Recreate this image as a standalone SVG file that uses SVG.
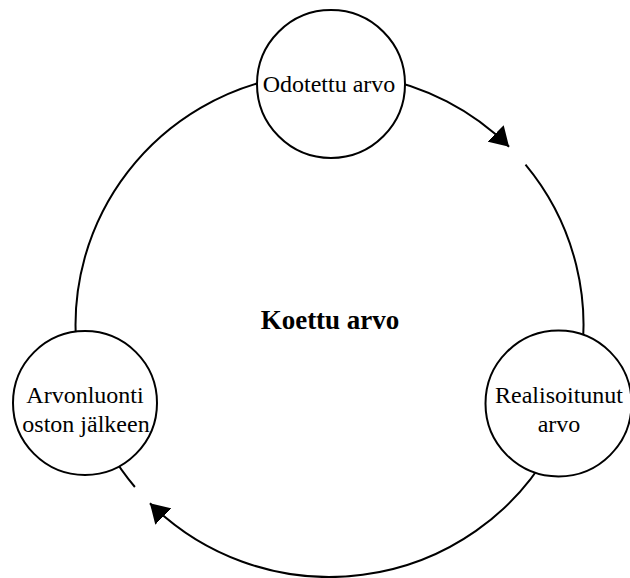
<svg xmlns="http://www.w3.org/2000/svg" width="630" height="578" viewBox="0 0 630 578">
  <style>
    .conn { fill: none; stroke: #000; stroke-width: 2; }
    .node circle { fill: #fff; stroke: #000; stroke-width: 2; }
    .lbl { font-family: "Liberation Serif", "Times New Roman", serif; font-size: 24px; fill: #000; text-anchor: middle; }
    .title { font-family: "Liberation Serif", "Times New Roman", serif; font-size: 27px; font-weight: bold; fill: #000; text-anchor: middle; }
  </style>
  <defs>
    <marker id="arrow" markerUnits="userSpaceOnUse" markerWidth="19" markerHeight="23" viewBox="0 0 19 23" refX="19" refY="11.5" orient="auto">
      <path d="M0,0 L19,11.5 L0,23 Z" fill="#000"/>
    </marker>
  </defs>
  <rect width="630" height="578" fill="#fff"/>
  <g id="connectors">
    <path class="conn" d="M76.5,347 A254,252 0 0 1 285.4,76.8"/>
    <path class="conn" d="M373.6,76.8 A254,252 0 0 1 509.1,146.8" marker-end="url(#arrow)"/>
    <path class="conn" d="M525.5,164.7 A254,252 0 0 1 577.9,377.4"/>
    <path class="conn" d="M549.5,451 A254,252 0 0 1 149.9,503.2" marker-end="url(#arrow)"/>
    <path class="conn" d="M134.9,487 A254,252 0 0 1 109.5,451"/>
  </g>
  <g id="node-odotettu" class="node">
    <circle cx="331" cy="84" r="74"/>
    <text class="lbl" x="329" y="92">Odotettu arvo</text>
  </g>
  <g id="node-realisoitunut" class="node">
    <circle cx="558.5" cy="403.5" r="73"/>
    <text class="lbl" x="559" y="403">Realisoitunut</text>
    <text class="lbl" x="559" y="432">arvo</text>
  </g>
  <g id="node-arvonluonti" class="node">
    <circle cx="85" cy="403" r="72"/>
    <text class="lbl" x="85" y="403">Arvonluonti</text>
    <text class="lbl" x="86" y="432">oston jälkeen</text>
  </g>
  <g id="center-label">
    <text class="title" x="330" y="329">Koettu arvo</text>
  </g>
</svg>
